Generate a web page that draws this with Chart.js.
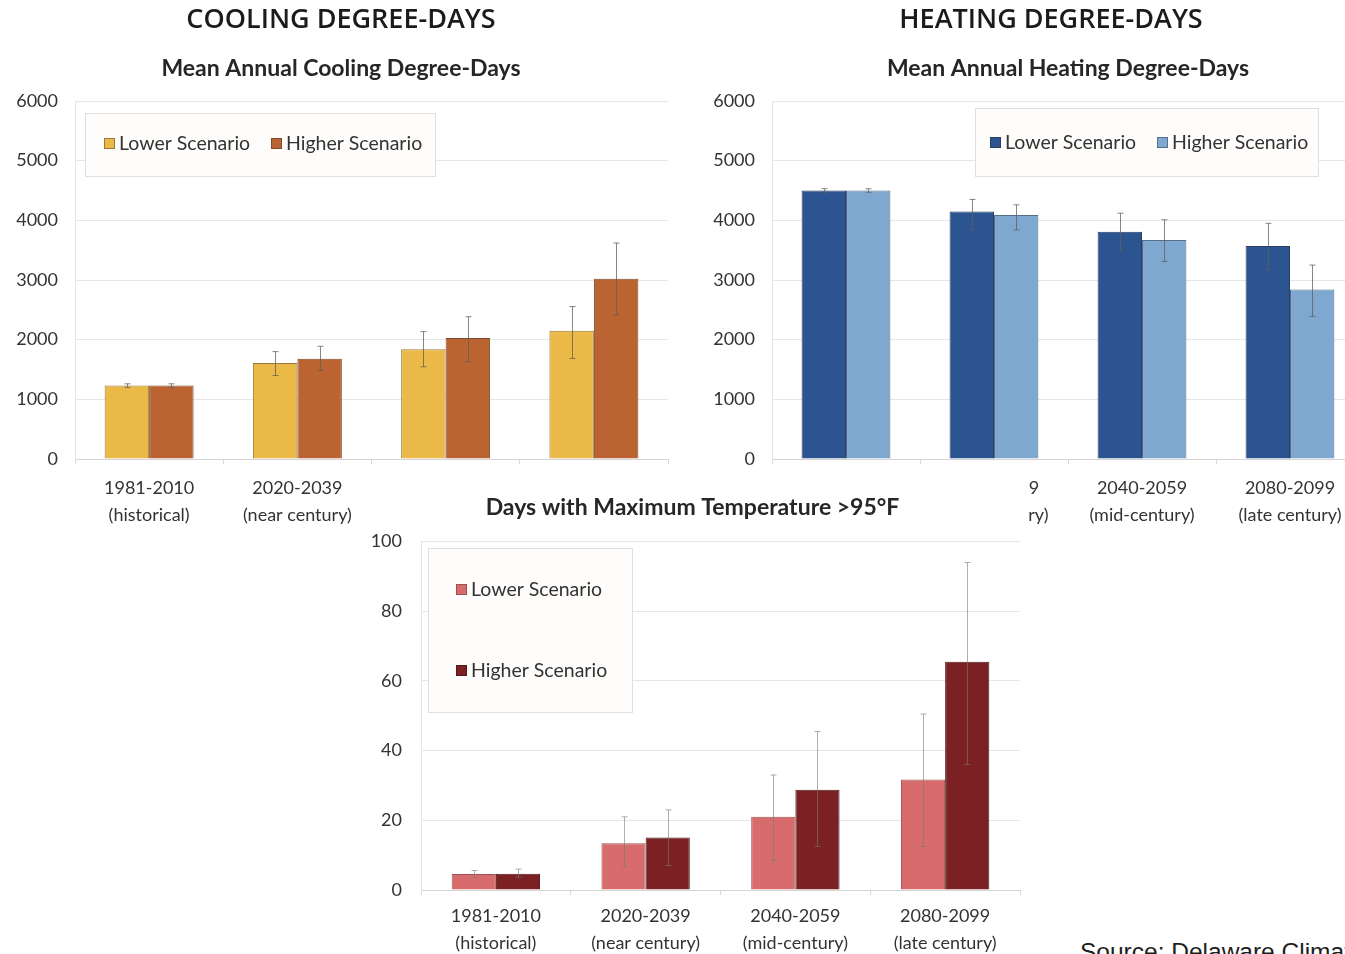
<!DOCTYPE html>
<html>
<head>
<meta charset="utf-8">
<script src="https://cdn.jsdelivr.net/npm/chart.js@4.4.1/dist/chart.umd.min.js"></script>
<style>
  html, body { margin: 0; padding: 0; background: #fff; width: 1345px; height: 954px; overflow: hidden; position: relative; }
  .panel { position: absolute; background: #fff; }
  .panel canvas { filter: blur(0.5px); }
  #source { position: absolute; left: 1080px; top: 938px; font: 24.5px "Liberation Sans", Arial, sans-serif; line-height: 28px; color: #1e1e1e; white-space: nowrap; }
</style>
</head>
<body>
<div class="panel" style="left:0;top:0;width:682px;height:540px;z-index:1"><canvas id="cool"></canvas></div>
<div class="panel" style="left:675px;top:0;width:752px;height:540px;z-index:2"><canvas id="heat"></canvas></div>
<div class="panel" style="left:357px;top:472px;width:671px;height:482px;z-index:3"><canvas id="hot"></canvas></div>
<div id="source">Source: Delaware Climate Change Impact Assessment</div>

<script>
// ---- data ----
const periods = [
  ['1981-2010', '(historical)'],
  ['2020-2039', '(near century)'],
  ['2040-2059', '(mid-century)'],
  ['2080-2099', '(late century)']
];
const scenarioNames = ['Lower Scenario', 'Higher Scenario'];

// Mean annual cooling degree-days
const coolLower = [1230, 1610, 1840, 2150];
const coolHigher = [1230, 1680, 2030, 3020];
const coolLowerRange = [[1200, 1260], [1400, 1800], [1545, 2135], [1685, 2555]];
const coolHigherRange = [[1200, 1260], [1485, 1890], [1630, 2385], [2415, 3620]];

// Mean annual heating degree-days
const heatLower = [4500, 4150, 3810, 3570];
const heatHigher = [4500, 4090, 3670, 2840];
const heatLowerRange = [[4470, 4530], [3840, 4350], [3480, 4120], [3170, 3950]];
const heatHigherRange = [[4470, 4530], [3840, 4260], [3310, 4010], [2390, 3250]];

// Days with maximum temperature above 95°F
const hotLower = [4.6, 13.4, 21, 31.7];
const hotHigher = [4.7, 15.1, 28.8, 65.5];
const hotLowerRange = [[3.6, 5.6], [6.5, 21], [8.5, 33], [12.5, 50.5]];
const hotHigherRange = [[3.7, 6], [7, 23], [12.5, 45.5], [36, 94]];

const degreeTicks = [0, 1000, 2000, 3000, 4000, 5000, 6000];
const dayTicks = [0, 20, 40, 60, 80, 100];

// ---- plugins ----
const errorBars = {
  id: 'errorBars',
  afterDatasetsDraw(chart, args, opts) {
    const ctx = chart.ctx, ys = chart.scales.y;
    ctx.save();
    ctx.strokeStyle = opts.color;
    ctx.lineWidth = 1;
    chart.data.datasets.forEach((ds, di) => {
      const meta = chart.getDatasetMeta(di);
      meta.data.forEach((bar, i) => {
        const r = ds.range && ds.range[i];
        if (!r) return;
        const x = Math.round(bar.x) + 0.5;
        const y1 = ys.getPixelForValue(r[0]), y2 = ys.getPixelForValue(r[1]);
        ctx.beginPath();
        ctx.moveTo(x, y1); ctx.lineTo(x, y2);
        ctx.moveTo(x - 3, y1); ctx.lineTo(x + 3, y1);
        ctx.moveTo(x - 3, y2); ctx.lineTo(x + 3, y2);
        ctx.stroke();
      });
    });
    ctx.restore();
  }
};

const boxLegend = {
  id: 'boxLegend',
  afterDatasetsDraw(chart, args, o) {
    const ctx = chart.ctx;
    const [bx, by, bw, bh] = o.box;
    ctx.save();
    ctx.fillStyle = '#fffdfb';
    ctx.fillRect(bx, by, bw, bh);
    ctx.strokeStyle = '#e2dedb';
    ctx.lineWidth = 1;
    ctx.strokeRect(bx + 0.5, by + 0.5, bw, bh);
    ctx.font = '19.5px Lato, "Open Sans", sans-serif';
    ctx.textBaseline = 'middle';
    chart.data.datasets.forEach((ds, i) => {
      const [mx, my] = o.items[i];
      ctx.fillStyle = ds.backgroundColor;
      ctx.fillRect(mx, my - 5, 11, 11);
      ctx.strokeStyle = ds.borderColor;
      ctx.strokeRect(mx + 0.5, my - 4.5, 10, 10);
      ctx.fillStyle = '#333';
      ctx.fillText(ds.label, mx + 15, my + 1);
    });
    ctx.restore();
  }
};

// ---- chart factory ----
function barChart(id, cfg) {
  const tickFont = { family: 'Lato, "Open Sans", sans-serif', size: 18 };
  return new Chart(document.getElementById(id), {
    type: 'bar',
    data: {
      labels: periods,
      datasets: [
        { label: scenarioNames[0], data: cfg.lower, range: cfg.lowerRange,
          backgroundColor: cfg.colors[0], borderColor: cfg.borders[0], borderWidth: 1,
          categoryPercentage: cfg.catPct, barPercentage: 1 },
        { label: scenarioNames[1], data: cfg.higher, range: cfg.higherRange,
          backgroundColor: cfg.colors[1], borderColor: cfg.borders[1], borderWidth: 1,
          categoryPercentage: cfg.catPct, barPercentage: 1 }
      ]
    },
    options: {
      responsive: true,
      maintainAspectRatio: false,
      animation: false,
      layout: { padding: 0 },
      plugins: {
        legend: { display: false },
        tooltip: { enabled: false },
        title: cfg.title ? {
          display: true, text: cfg.title, color: '#1b1b1b', fullSize: true,
          font: { family: '"Open Sans", Lato, sans-serif', size: 27, weight: '600' },
          padding: cfg.titlePad
        } : { display: false },
        subtitle: {
          display: true, text: cfg.subtitle, color: '#262626', fullSize: cfg.subFull,
          font: { family: 'Lato, "Open Sans", sans-serif', size: 23, weight: 'bold' },
          padding: cfg.subPad
        },
        errorBars: { color: cfg.errColor },
        boxLegend: cfg.legend
      },
      scales: {
        x: {
          ticks: { color: '#333', font: { ...tickFont, lineHeight: 1.5 }, padding: cfg.xPad, maxRotation: 0, autoSkip: false },
          grid: { display: true, drawOnChartArea: false, offset: true, tickLength: 5, color: '#d8d8d8' },
          border: { color: '#d4d4d4' },
          afterFit(s) { s.height = cfg.xHeight; }
        },
        y: {
          min: cfg.ticks[0], max: cfg.ticks[cfg.ticks.length - 1],
          afterBuildTicks(s) { s.ticks = cfg.ticks.map(v => ({ value: v })); },
          ticks: { color: '#333', font: tickFont, padding: cfg.yPad, callback: v => String(v) },
          grid: { color: '#e6e6e6', drawTicks: false },
          border: { display: true, color: '#e6e6e6' },
          afterFit(s) { s.width = cfg.yWidth; }
        },
        // empty right-hand spacer so the plot area stops short of the canvas edge
        spacer: {
          type: 'linear', position: 'right', display: cfg.rightGap > 0,
          grid: { display: false }, border: { display: false }, ticks: { display: false },
          afterFit(s) { s.width = cfg.rightGap; }
        }
      }
    },
    plugins: [errorBars, boxLegend]
  });
}

barChart('cool', {
  lower: coolLower, higher: coolHigher, lowerRange: coolLowerRange, higherRange: coolHigherRange,
  colors: ['#ebb948', '#bb6431'], borders: ['#9a7a3a', '#7d4a2c'], catPct: 0.6,
  title: 'COOLING DEGREE-DAYS', subtitle: 'Mean Annual Cooling Degree-Days', subFull: true,
  titlePad: { top: 4, bottom: 18 }, subPad: { top: 0, bottom: 19 },
  rightGap: 14, ticks: degreeTicks, yWidth: 75, yPad: 17, xHeight: 81, xPad: 11,
  errColor: 'rgba(95,95,80,0.75)',
  legend: { box: [85, 113, 350, 63], items: [[104, 143], [271, 143]] }
});

barChart('heat', {
  lower: heatLower, higher: heatHigher, lowerRange: heatLowerRange, higherRange: heatHigherRange,
  colors: ['#2b5490', '#7fa8d0'], borders: ['#2a3e60', '#56708c'], catPct: 0.6,
  title: 'HEATING DEGREE-DAYS', subtitle: 'Mean Annual Heating Degree-Days', subFull: false,
  titlePad: { top: 4, bottom: 18 }, subPad: { top: 0, bottom: 19 },
  rightGap: 63, ticks: degreeTicks, yWidth: 97, yPad: 17, xHeight: 81, xPad: 11,
  errColor: 'rgba(95,95,95,0.75)',
  legend: { box: [300, 108, 343, 68], items: [[315, 142], [482, 142]] }
});

barChart('hot', {
  lower: hotLower, higher: hotHigher, lowerRange: hotLowerRange, higherRange: hotHigherRange,
  colors: ['#d86c6c', '#7b2123'], borders: ['#9c5050', '#4e1a1a'], catPct: 0.59,
  title: null, subtitle: 'Days with Maximum Temperature >95°F', subFull: true,
  subPad: { top: 22, bottom: 20 },
  rightGap: 8, ticks: dayTicks, yWidth: 64, yPad: 19, xHeight: 64, xPad: 8,
  errColor: 'rgba(120,120,120,0.6)',
  legend: { box: [71, 76, 204, 164], items: [[99, 117], [99, 198]] }
});
</script>
</body>
</html>
